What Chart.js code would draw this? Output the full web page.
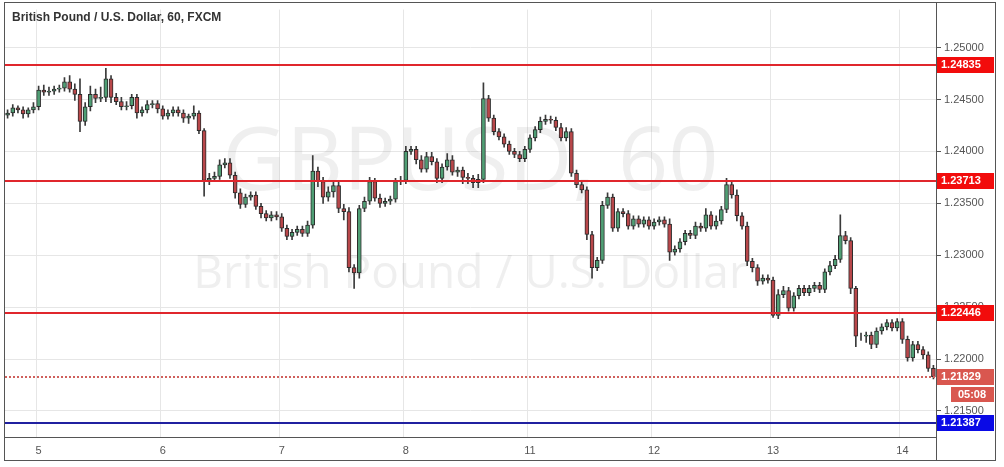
<!DOCTYPE html>
<html>
<head>
<meta charset="utf-8">
<script src="https://cdn.jsdelivr.net/npm/chart.js@4.4.0/dist/chart.umd.min.js"></script>
<style>
  html, body { margin: 0; padding: 0; background: #fff; }
  #wrap { width: 1004px; height: 467px; }
</style>
</head>
<body>
<div id="wrap"><canvas id="chart"></canvas></div>
<script>
// hourly closes, GBP/USD 60 (open = previous close)
const closes = [
  1.2437, 1.2442, 1.2440, 1.2436, 1.2440, 1.2443, 1.2459, 1.2457, 1.2458, 1.2460,
  1.2461, 1.2467, 1.2460, 1.2455, 1.2429, 1.2443, 1.2455, 1.2451, 1.2452, 1.2470,
  1.2452, 1.2448, 1.2443, 1.2444, 1.2452, 1.2437, 1.2440, 1.2445, 1.2446, 1.2441,
  1.2434, 1.2437, 1.2440, 1.2437, 1.2432, 1.2434, 1.2437, 1.2420, 1.2372, 1.2374,
  1.2376, 1.2387, 1.2389, 1.2377, 1.2360, 1.2349, 1.2356, 1.2358, 1.2347, 1.2340,
  1.2336, 1.2339, 1.2337, 1.2326, 1.2318, 1.2322, 1.2325, 1.2321, 1.2329, 1.2381,
  1.2371, 1.2356, 1.2361, 1.2367, 1.2345, 1.2342, 1.2288, 1.2283, 1.2345, 1.2352,
  1.2371, 1.2355, 1.2350, 1.2352, 1.2354, 1.2371, 1.2372, 1.2400, 1.2402, 1.2392,
  1.2383, 1.2395, 1.2390, 1.2374, 1.2385, 1.2392, 1.2380, 1.2382, 1.2375, 1.2374,
  1.2370, 1.2373, 1.2451, 1.2432, 1.2419, 1.2414, 1.2407, 1.2400, 1.2397, 1.2393,
  1.2402, 1.2413, 1.2421, 1.2429, 1.2431, 1.2430, 1.2423, 1.2413, 1.2419, 1.2379,
  1.2368, 1.2363, 1.2320, 1.2288, 1.2295, 1.2348, 1.2356, 1.2326, 1.2342, 1.2340,
  1.2328, 1.2335, 1.2330, 1.2334, 1.2328, 1.2332, 1.2334, 1.2330, 1.2303, 1.2306,
  1.2313, 1.2321, 1.2319, 1.2328, 1.2326, 1.2339, 1.2328, 1.2333, 1.2344, 1.2368,
  1.2358, 1.2338, 1.2328, 1.2294, 1.2288, 1.2275, 1.2278, 1.2276, 1.2242, 1.2262,
  1.2266, 1.2249, 1.2261, 1.2268, 1.2264, 1.2268, 1.2271, 1.2267, 1.2284, 1.2290,
  1.2296, 1.2319, 1.2314, 1.2268, 1.2222, 1.2222, 1.2223, 1.2214, 1.2227, 1.2231,
  1.2235, 1.2230, 1.2236, 1.2219, 1.2201, 1.2214, 1.2209, 1.2204, 1.2191, 1.21829
];
const firstOpen = 1.2435;
// wick lengths in pips above / below the body
const upWick = [
  3, 3, 2, 3, 2, 4, 4, 5, 4, 3, 3, 4, 6, 5, 15, 4, 8, 5, 10, 10,
  3, 4, 4, 4, 3, 3, 3, 4, 3, 3, 3, 3, 3, 3, 3, 2, 7, 2, 2, 5,
  4, 5, 4, 4, 3, 4, 3, 3, 3, 3, 3, 3, 3, 3, 3, 3, 3, 3, 4, 15,
  4, 4, 5, 4, 4, 4, 4, 3, 3, 4, 4, 3, 4, 3, 3, 3, 4, 5, 3, 3,
  4, 4, 4, 3, 3, 6, 4, 3, 3, 4, 3, 5, 15, 3, 3, 3, 3, 3, 3, 3,
  3, 3, 3, 4, 4, 3, 3, 4, 4, 3, 3, 3, 3, 3, 3, 4, 4, 3, 3, 3,
  3, 3, 3, 3, 3, 3, 3, 3, 5, 3, 3, 3, 3, 4, 3, 6, 3, 5, 3, 6,
  4, 5, 3, 4, 3, 3, 3, 3, 3, 5, 4, 3, 3, 3, 3, 3, 3, 3, 3, 4,
  4, 20, 4, 3, 2, 3, 3, 3, 3, 3, 3, 3, 3, 3, 3, 3, 3, 3, 3, 3
];
const downWick = [
  3, 3, 3, 4, 3, 3, 3, 3, 3, 3, 3, 3, 3, 6, 10, 4, 4, 4, 3, 4,
  5, 3, 3, 3, 3, 5, 3, 3, 3, 4, 3, 3, 3, 3, 4, 5, 3, 3, 15, 4,
  3, 3, 3, 3, 5, 4, 3, 3, 3, 4, 3, 3, 3, 3, 3, 3, 3, 3, 3, 3,
  5, 6, 4, 5, 4, 8, 4, 15, 5, 3, 3, 3, 4, 3, 3, 3, 3, 3, 3, 4,
  3, 3, 3, 4, 4, 3, 3, 4, 6, 5, 5, 5, 3, 3, 3, 3, 3, 3, 3, 3,
  3, 3, 3, 3, 3, 3, 3, 3, 3, 3, 3, 3, 5, 10, 3, 3, 3, 3, 3, 3,
  3, 3, 3, 3, 3, 3, 3, 3, 8, 3, 3, 3, 3, 3, 3, 3, 3, 3, 3, 3,
  3, 5, 3, 4, 4, 4, 3, 3, 2, 3, 3, 3, 3, 3, 3, 3, 3, 3, 3, 3,
  3, 3, 3, 5, 10, 4, 6, 4, 3, 3, 3, 3, 3, 4, 3, 3, 3, 4, 3, 2
];
// day labels keyed by candle index
const dayTickIndex = [6, 30, 53, 77, 101, 125, 148, 173];
const dayTickLabels = ["5", "6", "7", "8", "11", "12", "13", "14"];
const yTicks = [1.215, 1.22, 1.225, 1.23, 1.235, 1.24, 1.245, 1.25];
const redLevels = [1.24835, 1.23713, 1.22446];
const blueLevel = 1.21387;
const lastPrice = 1.21829;
const countdown = "05:08";

const labels = closes.map((c, i) => i);
const opens = closes.map((c, i) => (i === 0 ? firstOpen : closes[i - 1]));
const bodies = closes.map((c, i) => [opens[i], c]);
const wicks = closes.map((c, i) => [
  Math.min(opens[i], c) - downWick[i] / 10000,
  Math.max(opens[i], c) + upWick[i] / 10000,
]);
const isUp = closes.map((c, i) => c >= opens[i]);

const upFill = "#4f9e74";
const downFill = "#b8474a";

const overlay = {
  id: "overlay",
  beforeDatasetsDraw(chart) {
    const { ctx, chartArea: a } = chart;
    ctx.save();
    ctx.fillStyle = "rgba(120,120,120,0.12)";
    ctx.textAlign = "center";
    ctx.textBaseline = "middle";
    ctx.font = "88px 'Open Sans', sans-serif";
    ctx.fillText("GBPUSD, 60", (a.left + a.right) / 2, 165);
    ctx.font = "46px 'Open Sans', sans-serif";
    ctx.fillText("British Pound / U.S. Dollar", (a.left + a.right) / 2, 275);
    ctx.restore();
  },
  afterDraw(chart) {
    const { ctx, chartArea: a } = chart;
    const y = chart.scales.y;
    ctx.save();
    const pix = (v) => Math.round(y.getPixelForValue(v));
    const hline = (v, color) => {
      ctx.fillStyle = color;
      ctx.fillRect(a.left, pix(v) - 1, a.right - a.left, 2);
    };
    const tag = (v, bg, txt) => {
      const py = pix(v);
      ctx.fillStyle = bg;
      ctx.fillRect(a.right + 1, py - 8, 57, 16);
      ctx.fillStyle = "#fff";
      ctx.font = "bold 11px 'Liberation Sans', Arial, sans-serif";
      ctx.textAlign = "left";
      ctx.textBaseline = "middle";
      ctx.fillText(txt, a.right + 5, py);
    };
    redLevels.forEach((v) => hline(v, "#e0262c"));
    hline(blueLevel, "#2020a0");
    ctx.fillStyle = "#d0605c";
    for (let x = a.left; x < a.right; x += 4) ctx.fillRect(x, pix(lastPrice) - 1, 2, 2);
    redLevels.forEach((v) => tag(v, "#f20c0c", v.toFixed(5)));
    tag(blueLevel, "#0a0ae6", blueLevel.toFixed(5));
    tag(lastPrice, "#d9574f", lastPrice.toFixed(5));
    const py = pix(lastPrice);
    ctx.fillStyle = "#d9574f";
    ctx.fillRect(a.right + 15, py + 10, 43, 15);
    ctx.fillStyle = "#fff";
    ctx.textAlign = "center";
    ctx.fillText(countdown, a.right + 36, py + 18);
    // frame and title
    ctx.fillStyle = "#555";
    ctx.fillRect(4, 2, 992, 1);
    ctx.fillRect(4, 460, 992, 1);
    ctx.fillRect(4, 2, 1, 459);
    ctx.fillRect(995, 2, 1, 459);
    ctx.fillRect(a.right, 2, 1, 459);
    ctx.fillRect(4, a.bottom, a.right - 4, 1);
    ctx.fillStyle = "#333";
    ctx.font = "bold 12px 'Liberation Sans', Arial, sans-serif";
    ctx.textAlign = "left";
    ctx.textBaseline = "middle";
    ctx.fillText("British Pound / U.S. Dollar, 60, FXCM", 12, 18);
    ctx.restore();
  },
};

new Chart(document.getElementById("chart"), {
  type: "bar",
  data: {
    labels: labels,
    datasets: [
      {
        data: bodies,
        backgroundColor: isUp.map((u) => (u ? upFill : downFill)),
        borderColor: "#2b2b2b",
        borderWidth: 1,
        borderSkipped: false,
        barThickness: 4,
        grouped: false,
        order: 1,
      },
      {
        data: wicks,
        backgroundColor: "#3a3a3a",
        barThickness: 1,
        grouped: false,
        order: 2,
      },
    ],
  },
  options: {
    responsive: true,
    maintainAspectRatio: false,
    animation: false,
    layout: { padding: { left: 5, top: 3, right: 8, bottom: 6 } },
    plugins: { legend: { display: false }, tooltip: { enabled: false } },
    scales: {
      x: {
        afterFit: (s) => { s.height = 24; },
        grid: {
          color: (c) => (dayTickIndex.includes(c.index) ? "#e6e6e6" : "rgba(0,0,0,0)"),
          drawTicks: false,
        },
        border: { display: false },
        ticks: {
          autoSkip: false,
          maxRotation: 0,
          padding: 7,
          color: "#555",
          font: { size: 11, family: "'Liberation Sans', Arial, sans-serif" },
          callback: (v, i) => {
            const k = dayTickIndex.indexOf(i);
            return k >= 0 ? dayTickLabels[k] : "";
          },
        },
      },
      y: {
        position: "right",
        min: 1.21249,
        max: 1.25366,
        afterFit: (s) => { s.width = 60; },
        afterBuildTicks: (s) => { s.ticks = yTicks.map((v) => ({ value: v })); },
        grid: { color: "#e6e6e6", tickLength: 5, tickColor: "#555" },
        border: { display: false },
        ticks: {
          color: "#555",
          padding: 3,
          font: { size: 11, family: "'Liberation Sans', Arial, sans-serif" },
          callback: (v) => v.toFixed(5),
        },
      },
    },
  },
  plugins: [overlay],
});
</script>
</body>
</html>
